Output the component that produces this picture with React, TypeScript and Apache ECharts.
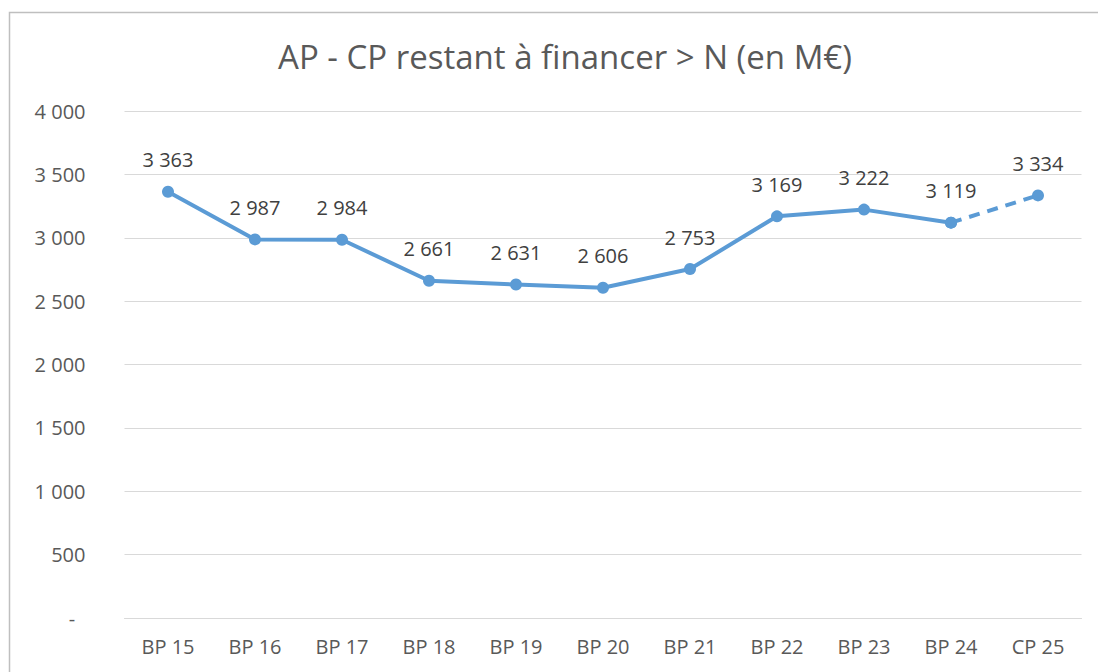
import React, { useEffect, useRef } from "react";
import * as echarts from "echarts";

const categories = ["BP 15", "BP 16", "BP 17", "BP 18", "BP 19", "BP 20", "BP 21", "BP 22", "BP 23", "BP 24", "CP 25"];
const values = [3363, 2987, 2984, 2661, 2631, 2606, 2753, 3169, 3222, 3119, 3334];
const solidCount = 10;

const fmt = (v: number) => {
  if (v === 0) return "-";
  return String(Math.round(v)).replace(/\B(?=(\d{3})+(?!\d))/g, " ");
};

export default function App() {
  const ref = useRef<HTMLDivElement>(null);
  useEffect(() => {
    if (!ref.current) return;
    const chart = echarts.init(ref.current, undefined, { renderer: "svg" });
    const solid = values.map((v, i) => (i < solidCount ? v : null));
    const dashed = values.map((v, i) => (i >= solidCount - 1 ? v : null));
    const color = "#5B9BD5";
    const font = "'Open Sans', 'Noto Sans', sans-serif";
    chart.setOption({
      animation: false,
      backgroundColor: "#ffffff",
      title: {
        text: "AP - CP restant à financer > N (en M€)",
        left: 560,
        textAlign: "center",
        top: 35,
        textStyle: { fontFamily: font, fontSize: 33, fontWeight: "normal", color: "#595959" },
      },
      graphic: [
        {
          type: "rect",
          shape: { x: 9.5, y: 12.5, width: 1200, height: 800 },
          style: { fill: "none", stroke: "#bfbfbf", lineWidth: 1.5 },
          silent: true,
          z: -1,
        },
      ],
      grid: { left: 124.5, right: 1098 - 1081.5, top: 111, bottom: 672 - 618 },
      xAxis: {
        type: "category",
        data: categories,
        boundaryGap: true,
        axisLine: { show: true, lineStyle: { color: "#d9d9d9", width: 1 } },
        axisTick: { show: false },
        axisLabel: { color: "#595959", fontFamily: font, fontSize: 20, margin: 18 },
      },
      yAxis: {
        type: "value",
        min: 0,
        max: 4000,
        interval: 500,
        axisLine: { show: false },
        axisTick: { show: false },
        splitLine: { lineStyle: { color: "#d9d9d9", width: 1 } },
        axisLabel: {
          color: "#595959",
          fontFamily: font,
          fontSize: 20,
          margin: 39,
          formatter: (v: number) => (v === 0 ? "-\u00A0\u00A0" : fmt(v)),
        },
      },
      series: [
        {
          type: "line",
          data: solid,
          symbol: "circle",
          symbolSize: 12,
          lineStyle: { color, width: 4 },
          itemStyle: { color },
          connectNulls: false,
          label: {
            show: true,
            position: "top",
            distance: 16,
            color: "#404040",
            fontFamily: font,
            fontSize: 20,
            formatter: (p: any) => fmt(p.value),
          },
          z: 3,
        },
        {
          type: "line",
          data: dashed,
          symbol: "circle",
          symbolSize: 12,
          lineStyle: { color, width: 4, type: [11, 8] },
          itemStyle: { color },
          connectNulls: false,
          label: {
            show: true,
            position: "top",
            distance: 16,
            color: "#404040",
            fontFamily: font,
            fontSize: 20,
            formatter: (p: any) => (p.dataIndex === values.length - 1 ? fmt(p.value) : ""),
          },
          z: 2,
        },
      ],
    });
    return () => chart.dispose();
  }, []);
  return (
    <div
      ref={ref}
      style={{ position: "fixed", left: 0, top: 0, width: 1098, height: 672 }}
    />
  );
}
